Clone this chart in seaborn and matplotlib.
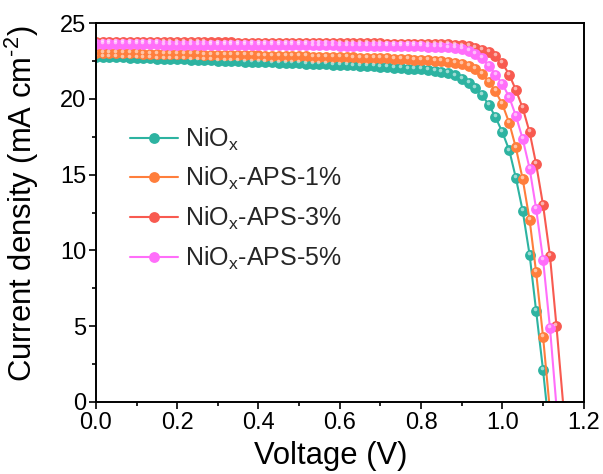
import matplotlib
matplotlib.use("Agg")
import numpy as np
import pandas as pd
import seaborn as sns
import matplotlib.pyplot as plt
from matplotlib.lines import Line2D
from matplotlib.transforms import offset_copy
from matplotlib.ticker import MultipleLocator, FormatStrFormatter

voltage = [0.000, 0.017, 0.033, 0.050, 0.067, 0.083, 0.100, 0.117, 0.133, 0.150,
           0.167, 0.183, 0.200, 0.217, 0.233, 0.250, 0.267, 0.283, 0.300, 0.317,
           0.333, 0.350, 0.367, 0.383, 0.400, 0.417, 0.433, 0.450, 0.467, 0.483,
           0.500, 0.517, 0.533, 0.550, 0.567, 0.583, 0.600, 0.617, 0.633, 0.650,
           0.667, 0.683, 0.700, 0.717, 0.733, 0.750, 0.767, 0.783, 0.800, 0.817,
           0.833, 0.850, 0.867, 0.883, 0.900, 0.917, 0.933, 0.950, 0.967, 0.983,
           1.000, 1.017, 1.033, 1.050, 1.067, 1.083, 1.100, 1.117, 1.133, 1.150]

j_niox = [22.80, 22.79, 22.77, 22.76, 22.74, 22.73, 22.71, 22.70, 22.68, 22.67,
          22.65, 22.64, 22.62, 22.61, 22.59, 22.58, 22.56, 22.55, 22.53, 22.52,
          22.50, 22.49, 22.47, 22.46, 22.44, 22.43, 22.41, 22.40, 22.38, 22.37,
          22.35, 22.34, 22.32, 22.30, 22.29, 22.27, 22.25, 22.23, 22.21, 22.19,
          22.17, 22.15, 22.12, 22.10, 22.07, 22.04, 22.01, 21.98, 21.95, 21.91,
          21.86, 21.80, 21.70, 21.55, 21.33, 21.05, 20.70, 20.25, 19.60, 18.80,
          17.80, 16.60, 14.80, 12.60, 9.70, 6.00, 2.10, -2.30]

j_aps1 = [23.05, 23.04, 23.04, 23.03, 23.02, 23.01, 23.01, 23.00, 22.99, 22.98,
          22.98, 22.97, 22.96, 22.95, 22.95, 22.94, 22.93, 22.92, 22.92, 22.91,
          22.90, 22.89, 22.89, 22.88, 22.87, 22.86, 22.86, 22.85, 22.84, 22.83,
          22.82, 22.81, 22.80, 22.79, 22.78, 22.77, 22.76, 22.75, 22.74, 22.73,
          22.72, 22.71, 22.69, 22.68, 22.66, 22.64, 22.62, 22.60, 22.58, 22.56,
          22.53, 22.49, 22.44, 22.37, 22.28, 22.15, 21.97, 21.68, 21.15, 20.50,
          19.65, 18.40, 16.80, 14.70, 12.00, 8.55, 4.30, -0.60]

j_aps3 = [23.78, 23.78, 23.78, 23.77, 23.77, 23.77, 23.76, 23.76, 23.76, 23.76,
          23.75, 23.75, 23.75, 23.74, 23.74, 23.74, 23.74, 23.73, 23.73, 23.73,
          23.73, 23.72, 23.72, 23.72, 23.71, 23.71, 23.71, 23.71, 23.70, 23.70,
          23.70, 23.70, 23.69, 23.69, 23.69, 23.69, 23.68, 23.68, 23.68, 23.68,
          23.67, 23.67, 23.67, 23.66, 23.66, 23.66, 23.65, 23.65, 23.64, 23.64,
          23.63, 23.62, 23.60, 23.57, 23.53, 23.47, 23.38, 23.25, 23.08, 22.85,
          22.35, 21.60, 20.60, 19.40, 17.80, 15.70, 13.00, 9.65, 5.00, -0.30]

j_aps5 = [23.62, 23.62, 23.62, 23.61, 23.61, 23.61, 23.60, 23.60, 23.60, 23.60,
          23.59, 23.59, 23.59, 23.58, 23.58, 23.58, 23.58, 23.57, 23.57, 23.57,
          23.57, 23.56, 23.56, 23.56, 23.55, 23.55, 23.55, 23.55, 23.54, 23.54,
          23.54, 23.54, 23.53, 23.53, 23.53, 23.53, 23.52, 23.52, 23.52, 23.52,
          23.51, 23.51, 23.51, 23.50, 23.50, 23.49, 23.49, 23.48, 23.47, 23.46,
          23.45, 23.43, 23.40, 23.36, 23.29, 23.18, 23.00, 22.72, 22.20, 21.60,
          21.00, 20.10, 18.90, 17.35, 15.40, 12.75, 9.40, 4.90, -0.30]

labels = ["NiO$_x$", "NiO$_x$-APS-1%", "NiO$_x$-APS-3%", "NiO$_x$-APS-5%"]
colors = ["#2DB3A1", "#FF7E3C", "#F85A50", "#FF6EFA"]
series = [j_niox, j_aps1, j_aps3, j_aps5]

rows = []
for lab, js in zip(labels, series):
    for v, j in zip(voltage[:len(js)], js):
        rows.append({"V": v, "J": j, "sample": lab})
df = pd.DataFrame(rows)

sns.set_theme(style="ticks")
plt.rcParams["font.family"] = ["Liberation Sans", "DejaVu Sans"]
plt.rcParams["mathtext.fontset"] = "custom"
plt.rcParams["mathtext.rm"] = "Liberation Sans"
plt.rcParams["mathtext.default"] = "regular"

fig = plt.figure(figsize=(6.03, 4.74), dpi=100)
ax = fig.add_axes([0.159, 0.152, 0.809, 0.799])

MS = 7.8
palette = dict(zip(labels, colors))
sns.lineplot(data=df, x="V", y="J", hue="sample", hue_order=labels, palette=palette,
             marker="o", markersize=MS, markeredgewidth=0, linewidth=1.5,
             estimator=None, sort=False, legend=False, ax=ax)

hl_tr = offset_copy(ax.transData, fig=fig, x=-0.7, y=1.4, units="points")
for lab, js in zip(labels, series):
    ax.plot(voltage[:len(js)], js, linestyle="none", marker="o", markersize=2.6,
            markeredgewidth=0, color="white", alpha=0.55, transform=hl_tr)

ax.set_xlim(0, 1.2)
ax.set_ylim(0, 25)
ax.xaxis.set_major_locator(MultipleLocator(0.2))
ax.xaxis.set_minor_locator(MultipleLocator(0.1))
ax.yaxis.set_major_locator(MultipleLocator(5))
ax.yaxis.set_minor_locator(MultipleLocator(2.5))
ax.xaxis.set_major_formatter(FormatStrFormatter("%.1f"))
ax.tick_params(which="major", direction="out", length=5, width=1.2, labelsize=17,
               color="black", labelcolor="black", pad=2)
ax.tick_params(which="minor", direction="out", length=3, width=1.2, color="black")
ax.tick_params(top=False, right=False, which="both")
for sp in ax.spines.values():
    sp.set_visible(True)
    sp.set_linewidth(1.4)
    sp.set_color("black")

ax.set_xlabel("Voltage (V)", fontsize=22.3, color="black")
ax.set_ylabel(r"Current density (mA cm$^{\text{-}2}$)", fontsize=22.3, color="black")
ax.xaxis.set_label_coords(0.482, -0.103)
ax.yaxis.set_label_coords(-0.113, 0.524)

handles = [Line2D([], [], color=c, linewidth=1.5, marker="o", markersize=MS,
                  markeredgewidth=0) for c in colors]
ax.legend(handles, labels, loc="upper left", bbox_to_anchor=(0.07, 0.73),
          frameon=False, fontsize=18, handlelength=1.9, handletextpad=0.3,
          labelspacing=0.5, borderaxespad=0, borderpad=0)

fig.savefig("out.png", dpi=100)
